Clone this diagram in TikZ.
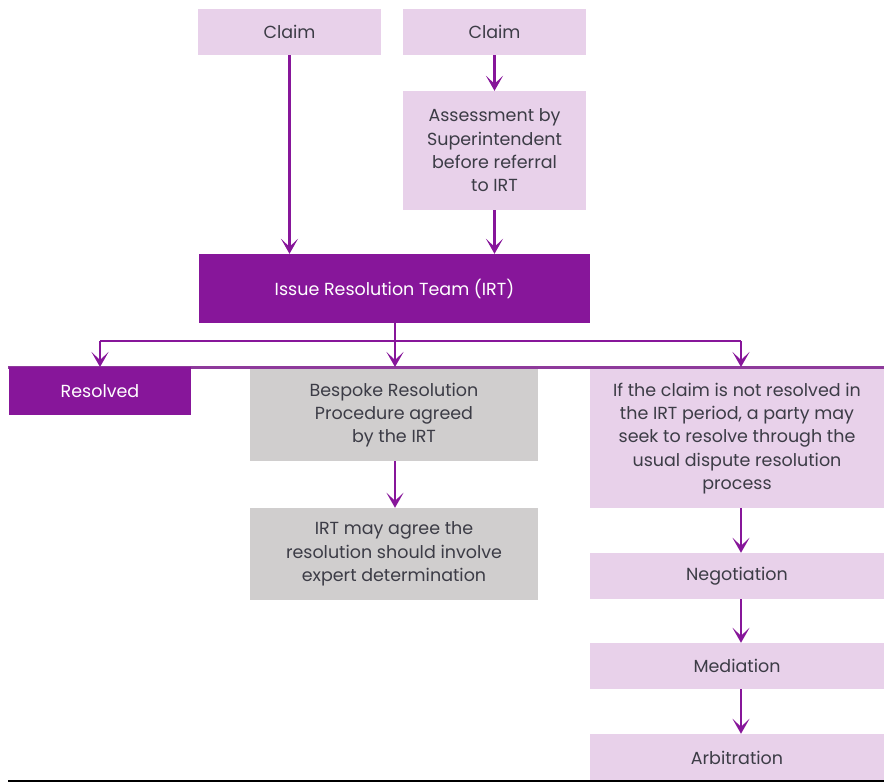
\documentclass[tikz,border=0pt]{standalone}
\usepackage{fontspec}
\setmainfont{Poppins}
\usetikzlibrary{arrows.meta}
\definecolor{lilac}{HTML}{E8D1EA}
\definecolor{dpurple}{HTML}{87169A}
\definecolor{lpurple}{HTML}{8E3A9B}
\definecolor{greybox}{HTML}{D0CECE}
\definecolor{txt}{HTML}{3C3C46}
\definecolor{baseline}{HTML}{7B3A8E}
\tikzset{
  box/.style={rectangle, inner sep=0pt, align=center, text=txt,
    font=\fontsize{17.5}{23.3}\selectfont},
  lbox/.style={box, fill=lilac},
  gbox/.style={box, fill=greybox},
  dbox/.style={box, fill=dpurple, text=white},
  conn/.style={draw=dpurple, line width=2.4pt},
  arr/.style={conn, -{Stealth[length=15pt,width=17pt,inset=8pt]}},
}
\begin{document}
\begin{tikzpicture}[x=1pt,y=-1pt]
\useasboundingbox (0,0) rectangle (884,782);
% separator lines
\coordinate (sepL) at (8,367);
\coordinate (sepR) at (884,367);
\draw[lpurple, line width=3pt] (sepL) -- (sepR);
\coordinate (botL) at (8,781);
\coordinate (botR) at (884,781);
% boxes
\node[lbox, minimum width=183pt, minimum height=46pt] (claim1) at (289.5,32) {Claim};
\node[lbox, minimum width=183pt, minimum height=46pt] (claim2) at (494.5,32) {Claim};
\node[lbox, minimum width=183pt, minimum height=119pt] (assess) at (494.5,150.5)
  {Assessment by\\Superintendent\\before referral\\to IRT};
\node[dbox, minimum width=391pt, minimum height=69pt] (irt) at (394.5,288.5)
  {Issue Resolution Team (IRT)};
\node[dbox, minimum width=182pt, minimum height=48pt] (resolved) at (100,391)
  {Resolved};
\node[gbox, minimum width=288pt, minimum height=92pt] (bespoke) at (394,415)
  {Bespoke Resolution\\Procedure agreed\\by the IRT};
\node[gbox, minimum width=288pt, minimum height=92pt] (irtmay) at (394,554)
  {IRT may agree the\\resolution should involve\\expert determination};
\node[lbox, minimum width=294pt, minimum height=139pt] (right) at (737,438.5)
  {If the claim is not resolved in\\the IRT period, a party may\\seek to resolve through the\\usual dispute resolution\\process};
\node[lbox, minimum width=294pt, minimum height=46pt] (nego) at (737,576) {Negotiation};
\node[lbox, minimum width=294pt, minimum height=46pt] (med) at (737,666) {Mediation};
\node[lbox, minimum width=294pt, minimum height=47pt] (arb) at (737,757.5) {Arbitration};
\draw[baseline, line width=1.5pt] (botL) -- (botR);
% connectors
\draw[arr] (claim1.south) -- (claim1.south |- irt.north);
\draw[arr] (claim2.south) -- (assess.north);
\draw[arr] (assess.south) -- (assess.south |- irt.north);
\coordinate (jM) at (395,341);
\coordinate (jL) at (100,341);
\coordinate (jR) at (741,341);
\coordinate (tM) at (395,367);
\coordinate (tL) at (100,367);
\coordinate (tR) at (741,367);
\draw[conn] (irt.south -| jM) -- (jM);
\draw[conn] (jL) -- (jR);
\draw[arr] (jL) -- (tL);
\draw[arr] (jM) -- (tM);
\draw[arr] (jR) -- (tR);
\draw[arr] (bespoke.south -| jM) -- (irtmay.north -| jM);
\draw[arr] (right.south -| jR) -- (nego.north -| jR);
\draw[arr] (nego.south -| jR) -- (med.north -| jR);
\draw[arr] (med.south -| jR) -- (arb.north -| jR);
\end{tikzpicture}
\end{document}
